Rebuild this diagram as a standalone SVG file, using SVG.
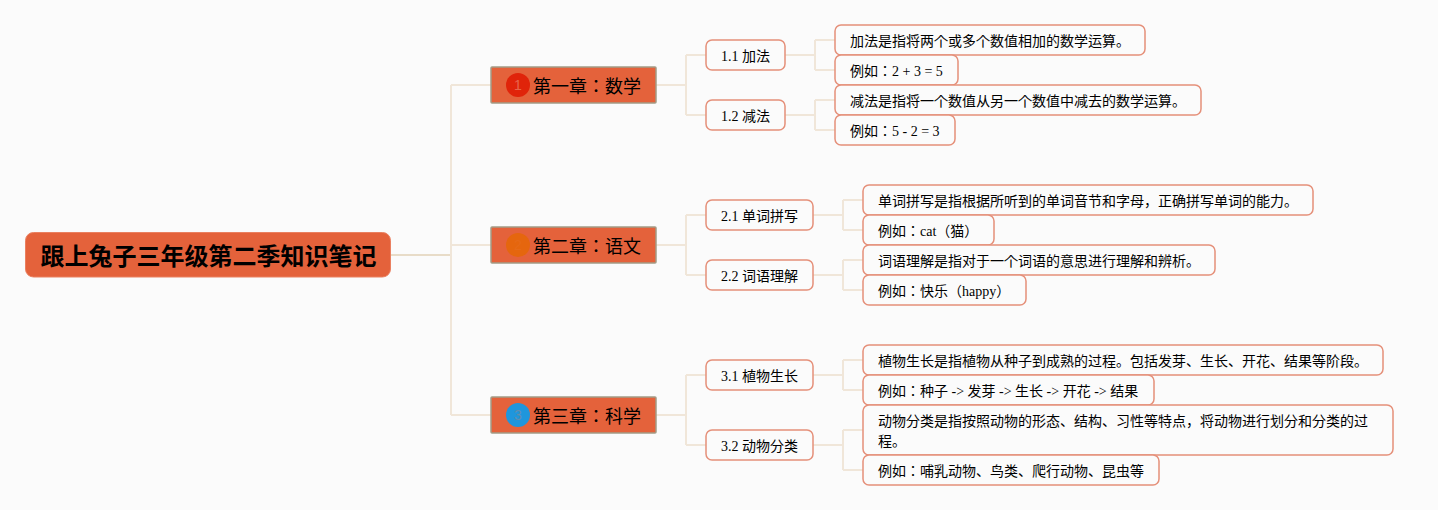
<svg xmlns="http://www.w3.org/2000/svg" width="1438" height="510" viewBox="0 0 1438 510">
<style>
text{font-family:"Liberation Serif","Noto Sans CJK JP",serif;fill:#000}
.root rect{fill:#e4623b;stroke:#ea8060;stroke-width:1}
.root text{font-size:24px;font-weight:700}
.ch rect{fill:#e4623b;stroke:#a39c86;stroke-width:1.5}
.ch text{font-size:18px}
.n rect{fill:#fbfbfb;stroke:#e5907a;stroke-width:1.5}
.n text{font-size:14px}
.c path{fill:none;stroke:#f0e6d9;stroke-width:2}
.c path.top{stroke:#e8dcc8}
.ch text.num{font-family:"Liberation Sans",sans-serif;font-size:14px;text-anchor:middle}
</style>
<rect width="1438" height="510" fill="#fbfbfb"/>
<g class="c" id="connectors">
<path class="top" d="M391 255H451"/>
<path d="M451 85V415M451 85H491M451 245H491M451 415H491"/>
<path d="M656 85H686M686 55V115M686 55H706M686 115H706"/>
<path d="M656 245H686M686 215V275M686 215H706M686 275H706"/>
<path d="M656 415H686M686 375V445M686 375H706M686 445H706"/>
<path d="M785 55H815M815 40V70M815 40H835M815 70H835"/>
<path d="M785 115H815M815 100V130M815 100H835M815 130H835"/>
<path d="M813 215H843M843 200V230M843 200H863M843 230H863"/>
<path d="M813 275H843M843 260V290M843 260H863M843 290H863"/>
<path d="M813 375H843M843 360V390M843 360H863M843 390H863"/>
<path d="M813 445H843M843 430V470M843 430H863M843 470H863"/>
</g>
<g id="root" class="root"><rect x="25.500" y="232.500" width="365" height="44.500" rx="8"/><text x="40.500" y="265">跟上兔子三年级第二季知识笔记</text></g>
<g id="ch1" class="ch"><rect x="491" y="67" width="165" height="36" rx="1"/><circle cx="518" cy="85" r="12" fill="#e0240a"/><text class="num" x="518" y="90" style="fill:#e8654a">1</text><text x="533" y="93">第一章：数学</text></g>
<g id="ch2" class="ch"><rect x="491" y="227" width="165" height="36" rx="1"/><circle cx="518" cy="245" r="12" fill="#e5660e"/><text class="num" x="518" y="250" style="fill:#e66a18">2</text><text x="533" y="253">第二章：语文</text></g>
<g id="ch3" class="ch"><rect x="491" y="397" width="165" height="36" rx="1"/><circle cx="518" cy="415" r="12" fill="#1f96dc"/><text class="num" x="518" y="420" style="fill:#5f8db0">3</text><text x="533" y="423">第三章：科学</text></g>
<g id="s11" class="n"><rect x="706" y="40" width="79" height="30" rx="6"/><text x="721" y="61">1.1 加法</text></g>
<g id="s12" class="n"><rect x="706" y="100" width="79" height="30" rx="6"/><text x="721" y="121">1.2 减法</text></g>
<g id="s21" class="n"><rect x="706" y="200" width="107" height="30" rx="6"/><text x="721" y="221">2.1 单词拼写</text></g>
<g id="s22" class="n"><rect x="706" y="260" width="107" height="30" rx="6"/><text x="721" y="281">2.2 词语理解</text></g>
<g id="s31" class="n"><rect x="706" y="360" width="107" height="30" rx="6"/><text x="721" y="381">3.1 植物生长</text></g>
<g id="s32" class="n"><rect x="706" y="430" width="107" height="30" rx="6"/><text x="721" y="451">3.2 动物分类</text></g>
<g id="l111" class="n"><rect x="835" y="25" width="310" height="30" rx="6"/><text x="850" y="46">加法是指将两个或多个数值相加的数学运算。</text></g>
<g id="l112" class="n"><rect x="835" y="55" width="123" height="30" rx="6"/><text x="850" y="76">例如：2 + 3 = 5</text></g>
<g id="l121" class="n"><rect x="835" y="85" width="366" height="30" rx="6"/><text x="850" y="106">减法是指将一个数值从另一个数值中减去的数学运算。</text></g>
<g id="l122" class="n"><rect x="835" y="115" width="120" height="30" rx="6"/><text x="850" y="136">例如：5 - 2 = 3</text></g>
<g id="l211" class="n"><rect x="863" y="185" width="450" height="30" rx="6"/><text x="878" y="206">单词拼写是指根据所听到的单词音节和字母，正确拼写单词的能力。</text></g>
<g id="l212" class="n"><rect x="863" y="215" width="131" height="30" rx="6"/><text x="878" y="236">例如：cat（猫）</text></g>
<g id="l221" class="n"><rect x="863" y="245" width="352" height="30" rx="6"/><text x="878" y="266">词语理解是指对于一个词语的意思进行理解和辨析。</text></g>
<g id="l222" class="n"><rect x="863" y="275" width="163" height="30" rx="6"/><text x="878" y="296">例如：快乐（happy）</text></g>
<g id="l311" class="n"><rect x="863" y="345" width="520" height="30" rx="6"/><text x="878" y="366">植物生长是指植物从种子到成熟的过程。包括发芽、生长、开花、结果等阶段。</text></g>
<g id="l312" class="n"><rect x="863" y="375" width="291" height="30" rx="6"/><text x="878" y="396">例如：种子 -&gt; 发芽 -&gt; 生长 -&gt; 开花 -&gt; 结果</text></g>
<g id="l321" class="n"><rect x="863" y="405" width="530" height="50" rx="6"/><text x="878" y="426">动物分类是指按照动物的形态、结构、习性等特点，将动物进行划分和分类的过</text><text x="878" y="446">程。</text></g>
<g id="l322" class="n"><rect x="863" y="455" width="296" height="30" rx="6"/><text x="878" y="476">例如：哺乳动物、鸟类、爬行动物、昆虫等</text></g>
</svg>
